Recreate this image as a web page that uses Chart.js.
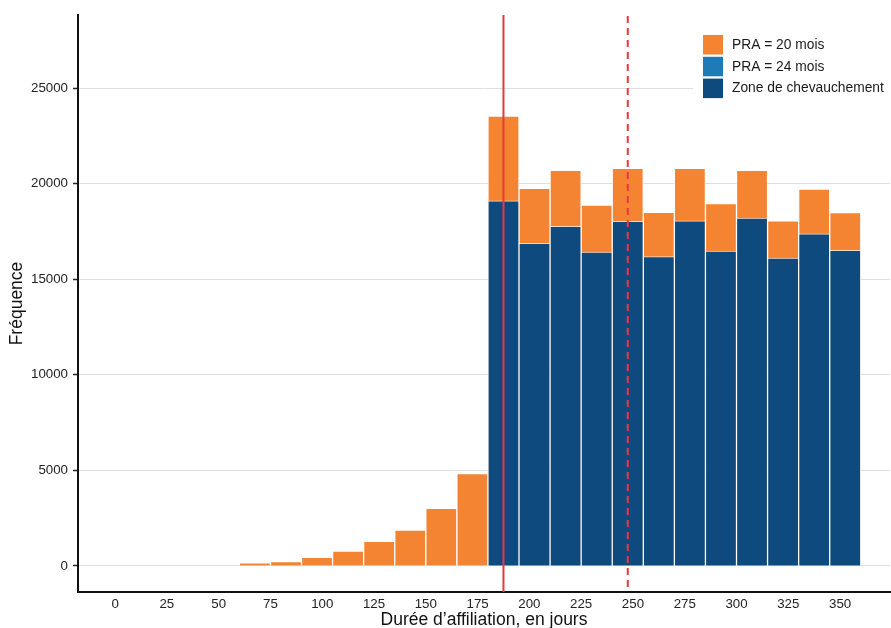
<!DOCTYPE html>
<html>
<head>
<meta charset="utf-8">
<script src="https://cdn.jsdelivr.net/npm/chart.js@4"></script>
<style>
  html, body { margin: 0; padding: 0; background: #fff; }
  #wrap { width: 891px; height: 628px; }
</style>
</head>
<body>
<div id="wrap"><canvas id="chart" width="891" height="628"></canvas></div>
<script>
// histogram bins (start of each 15-day bin)
const binStarts = [60, 75, 90, 105, 120, 135, 150, 165, 180, 195, 210, 225, 240, 255, 270, 285, 300, 315, 330, 345];
const binWidth = 15;

// PRA = 20 mois, total per bin
const pra20 = [160, 230, 455, 785, 1290, 1885, 3015, 4830, 23535, 19755, 20695, 18880, 20800, 18500, 20800, 18950, 20695, 18060, 19720, 18480];
// overlap zone per bin (none before 180 days)
const overlap = [null, null, null, null, null, null, null, null, 19105, 16880, 17765, 16425, 18030, 16180, 18060, 16475, 18200, 16110, 17380, 16510];

const xTicks = [0, 25, 50, 75, 100, 125, 150, 175, 200, 225, 250, 275, 300, 325, 350];
const yTicks = [0, 5000, 10000, 15000, 20000, 25000];

// reference lines (days)
const solidLineAt = 187.5;
const dashedLineAt = 247.5;

const legendLabels = ['PRA = 20 mois', 'PRA = 24 mois', 'Zone de chevauchement'];
const legendColors = ['#F58432', '#1F7BB6', '#0E4A7E'];

const FONT = "'Liberation Sans', Arial, Helvetica, sans-serif";

function toPoints(values) {
  return binStarts.map((s, i) => ({ x: s + binWidth / 2, y: values[i] }));
}

// vertical red lines
const refLines = {
  id: 'refLines',
  afterDatasetsDraw(chart) {
    const { ctx, chartArea, scales } = chart;
    ctx.save();
    ctx.strokeStyle = '#E8383D';
    ctx.lineWidth = 2;
    let x = scales.x.getPixelForValue(solidLineAt);
    ctx.beginPath();
    ctx.moveTo(x, chartArea.top);
    ctx.lineTo(x, chartArea.bottom);
    ctx.stroke();
    x = scales.x.getPixelForValue(dashedLineAt);
    ctx.setLineDash([7, 5]);
    ctx.beginPath();
    ctx.moveTo(x, chartArea.top + 1);
    ctx.lineTo(x, chartArea.bottom);
    ctx.stroke();
    ctx.restore();
  }
};

// legend box in the top right corner, inside the plot
const boxLegend = {
  id: 'boxLegend',
  afterDraw(chart) {
    const { ctx } = chart;
    ctx.save();
    ctx.fillStyle = '#fff';
    ctx.fillRect(693, 27, 198, 77);
    ctx.font = '13.8px ' + FONT;
    ctx.textBaseline = 'middle';
    legendLabels.forEach((label, i) => {
      const y = 35 + i * 21.8;
      ctx.fillStyle = legendColors[i];
      ctx.fillRect(703, y, 20, 19.5);
      ctx.fillStyle = '#1a1a1a';
      ctx.fillText(label, 732, y + 10);
    });
    ctx.restore();
  }
};

new Chart(document.getElementById('chart'), {
  type: 'bar',
  data: {
    datasets: [
      {
        label: legendLabels[2],
        data: toPoints(overlap),
        backgroundColor: legendColors[2],
        borderColor: 'rgba(255,255,255,0.7)',
        borderWidth: 1,
        order: 1,
      },
      {
        label: legendLabels[0],
        data: toPoints(pra20),
        backgroundColor: legendColors[0],
        borderColor: 'rgba(255,255,255,0.7)',
        borderWidth: 1,
        order: 2,
      },
    ],
  },
  options: {
    responsive: false,
    animation: false,
    devicePixelRatio: 1,
    layout: { padding: { top: 15, right: 1, left: 0, bottom: 0 } },
    datasets: {
      bar: { grouped: false, barPercentage: 1, categoryPercentage: 1 },
    },
    plugins: {
      legend: { display: false },
      tooltip: { enabled: false },
    },
    scales: {
      x: {
        type: 'linear',
        offset: false,
        min: -17.9,
        max: 374.1,
        afterBuildTicks: (scale) => { scale.ticks = xTicks.map((v) => ({ value: v })); },
        afterFit: (scale) => { scale.height = 36; },
        grid: { display: false, drawTicks: false },
        border: { color: '#111', width: 2 },
        ticks: { color: '#222', font: { family: FONT, size: 13.3 }, padding: 4.5, maxRotation: 0, autoSkip: false },
        title: {
          display: true,
          text: 'Durée d’affiliation, en jours',
          color: '#111',
          font: { family: FONT, size: 17.5, lineHeight: 0.85 },
          padding: { top: 0, bottom: 0 },
        },
      },
      y: {
        min: -1360,
        max: 28820,
        afterBuildTicks: (scale) => { scale.ticks = yTicks.map((v) => ({ value: v })); },
        afterFit: (scale) => { scale.width = 78; },
        grid: { color: '#dedede', lineWidth: 1, tickColor: '#222', tickLength: 5, tickWidth: 1.5 },
        border: { color: '#111', width: 2 },
        ticks: {
          color: '#222',
          font: { family: FONT, size: 13.3 },
          padding: 5,
          callback: (v) => String(v),
        },
        title: {
          display: true,
          text: 'Fréquence',
          color: '#111',
          font: { family: FONT, size: 17.5, lineHeight: 1.2 },
          padding: { top: 7, bottom: 0 },
        },
      },
    },
  },
  plugins: [refLines, boxLegend],
});
</script>
</body>
</html>
